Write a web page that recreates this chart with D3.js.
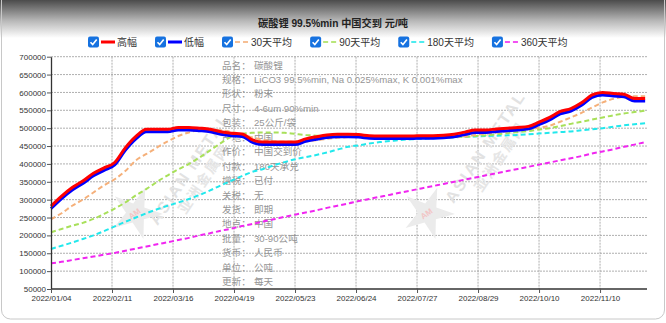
<!DOCTYPE html>
<html>
<head>
<meta charset="utf-8">
<script src="https://cdn.jsdelivr.net/npm/d3@7/dist/d3.min.js"></script>
<style>
  html, body { margin: 0; padding: 0; background: #fff; }
  svg { display: block; }
</style>
</head>
<body>
<svg id="chart" width="666" height="323"></svg>
<script>
// ---- data: lithium carbonate 99.5%min, delivered China, RMB/t ----
const chartTitle = "碳酸锂 99.5%min 中国交到 元/吨";
const totalSessions = 224.7;
const tickSessions = [0, 23, 46, 69, 92, 115, 138, 161, 184, 207];
const tickDates = ["2022/01/04", "2022/02/11", "2022/03/16", "2022/04/19", "2022/05/23",
  "2022/06/24", "2022/07/27", "2022/08/29", "2022/10/10", "2022/11/10"];
const yTicks = [50000, 100000, 150000, 200000, 250000, 300000, 350000, 400000,
  450000, 500000, 550000, 600000, 650000, 700000];

// trading-session number of each sampled quote
const sessions = [0, 4, 8, 12, 16, 20, 24, 28, 32, 36, 40, 44, 48, 52, 56, 60, 64, 68, 72, 76,
  80, 84, 88, 92, 96, 100, 104, 108, 112, 116, 120, 124, 128, 132, 136, 140, 144, 148, 152, 156,
  160, 164, 168, 172, 176, 180, 184, 188, 192, 196, 200, 204, 208, 212, 216, 220, 224];

const lowPrice = [275000, 303000, 327000, 345000, 367000, 382000, 397000, 438000, 470000, 490000,
  490000, 490000, 495000, 495000, 493000, 490000, 483000, 479000, 477000, 460000,
  454000, 454000, 454000, 454000, 463000, 469000, 474000, 476000, 476000, 475000,
  472000, 471000, 471000, 471000, 471000, 472000, 472000, 473000, 476000, 482000,
  488000, 488000, 491000, 493000, 495000, 498000, 510000, 523000, 540000, 548000,
  564000, 586000, 593000, 590000, 588000, 576000, 576000];

const highPrice = [282000, 310000, 334000, 352000, 374000, 389000, 404000, 445000, 477000, 497000,
  497000, 497000, 502000, 502000, 500000, 497000, 490000, 486000, 484000, 467000,
  461000, 461000, 461000, 461000, 470000, 476000, 481000, 483000, 483000, 482000,
  479000, 478000, 478000, 478000, 478000, 479000, 479000, 480000, 483000, 489000,
  495000, 495000, 498000, 500000, 502000, 505000, 517000, 530000, 547000, 555000,
  571000, 593000, 600000, 597000, 595000, 583000, 583000];

const avg30 = [245000, 262000, 283000, 300000, 320000, 340000, 357000, 380000, 410000, 428000,
  446000, 463000, 478000, 488000, 495000, 496000, 494000, 490000, 482000, 474000,
  467000, 463000, 462000, 462000, 463000, 466000, 470000, 473000, 475000, 476000,
  476000, 475000, 474000, 473000, 473000, 473000, 474000, 474000, 475000, 477000,
  481000, 485000, 488000, 491000, 494000, 497000, 501000, 507000, 518000, 530000,
  543000, 558000, 572000, 582000, 588000, 589000, 589000];

const avg90 = [209000, 218000, 227000, 235000, 246000, 260000, 275000, 292000, 312000, 330000,
  350000, 368000, 385000, 400000, 418000, 438000, 458000, 476000, 484000, 487000,
  488000, 488000, 487000, 484000, 481000, 479000, 478000, 477000, 476000, 476000,
  476000, 475000, 475000, 474000, 474000, 474000, 474000, 475000, 475000, 476000,
  478000, 480000, 483000, 486000, 489000, 492000, 496000, 500000, 506000, 512000,
  518000, 524000, 530000, 536000, 541000, 545000, 549000];

const avg180 = [162000, 171000, 180000, 190000, 200000, 212000, 225000, 238000, 250000, 262000,
  273000, 283000, 292000, 302000, 313000, 326000, 340000, 353000, 366000, 378000,
  386000, 396000, 405000, 413000, 419000, 425000, 432000, 440000, 448000, 452000,
  457000, 461000, 464000, 467000, 469000, 470000, 472000, 473000, 474000, 476000,
  477000, 478000, 479000, 480000, 481000, 483000, 485000, 487000, 489000, 491000,
  494000, 497000, 500000, 504000, 508000, 511000, 514000];

const avg360 = [122000, 126000, 131000, 136000, 141000, 146000, 151000, 157000, 163000, 169000,
  175000, 181000, 187000, 193000, 200000, 206000, 213000, 219000, 226000, 232000,
  239000, 245000, 252000, 258000, 264000, 270000, 277000, 283000, 289000, 296000,
  302000, 308000, 314000, 320000, 326000, 332000, 338000, 344000, 350000, 356000,
  362000, 368000, 374000, 380000, 386000, 392000, 398000, 404000, 410000, 416000,
  422000, 429000, 435000, 441000, 448000, 454000, 461000];

const seriesNames = ["高幅", "低幅", "30天平均", "90天平均", "180天平均", "360天平均"];

const specLabels = ["品名：", "规格：", "形状：", "尺寸：", "包装：", "产地：", "作价：", "付款：",
  "增税：", "关税：", "发货：", "地点：", "批量：", "货币：", "单位：", "更新："];
const specValues = ["碳酸锂", "LiCO3 99.5%min, Na 0.025%max, K 0.001%max", "粉末", "4-6um 90%min",
  "25公斤/袋", "中国", "中国交到价", "180天承兑", "已付", "无", "即期", "中国", "30-90公吨",
  "人民币", "公吨", "每天"];

// ---- drawing ----
const W = 666, H = 323;
const plot = { left: 51, right: 647, top: 56.7, bottom: 289 };
const FONT = "'Liberation Sans', Arial, 'Noto Sans CJK SC', sans-serif";
const CJK = "'Noto Sans CJK SC', 'Liberation Sans', sans-serif";

const svg = d3.select("#chart");
const defs = svg.append("defs");

// page card with a dark header fade
const grad = defs.append("linearGradient").attr("id", "headFade")
  .attr("x1", 0).attr("y1", 0).attr("x2", 0).attr("y2", 1);
grad.append("stop").attr("offset", "0%").attr("stop-color", "#4b4b4b");
grad.append("stop").attr("offset", "55%").attr("stop-color", "#b8b8b8");
grad.append("stop").attr("offset", "100%").attr("stop-color", "#ffffff");

svg.append("rect").attr("width", W).attr("height", H).attr("fill", "#ffffff");
svg.append("rect").attr("x", 0).attr("y", 0).attr("width", W).attr("height", 38)
  .attr("fill", "url(#headFade)");
svg.append("rect").attr("x", 1.5).attr("y", -12).attr("width", W - 3).attr("height", 331)
  .attr("rx", 9).attr("fill", "none").attr("stroke", "#c8c8c8").attr("stroke-width", 1);

const x = d3.scaleLinear().domain([0, totalSessions]).range([plot.left, plot.right]);
const y = d3.scaleLinear().domain([50000, 700000]).range([plot.bottom, plot.top]);

// grid
const grid = svg.append("g").attr("stroke", "#9a9a9a").attr("stroke-width", 0.8)
  .attr("stroke-dasharray", "2,1");
grid.selectAll("line.h").data(yTicks.slice(1)).join("line")
  .attr("x1", plot.left).attr("x2", plot.right)
  .attr("y1", d => y(d)).attr("y2", d => y(d));
grid.selectAll("line.v").data(tickSessions.slice(1)).join("line")
  .attr("x1", d => x(d)).attr("x2", d => x(d))
  .attr("y1", plot.top).attr("y2", plot.bottom);

// watermarks
function watermark(cx, cy, sx, sy) {
  const g = svg.append("g").attr("pointer-events", "none");
  const t = g.append("g").attr("transform", `translate(${cx},${cy}) rotate(-56)`);
  t.append("text").attr("text-anchor", "middle").attr("font-family", FONT)
    .attr("font-weight", "bold").attr("font-size", 16).attr("letter-spacing", 2)
    .attr("fill", "#e2e2e2").text("ASIAN METAL");
  t.append("text").attr("y", 17).attr("text-anchor", "middle").attr("font-family", CJK)
    .attr("font-weight", "bold").attr("font-size", 14).attr("letter-spacing", 2)
    .attr("fill", "#e6e6e6").text("亚洲金属网");
  const star = d3.range(10).map(i => {
    const r = i % 2 === 0 ? 27 : 10;
    const a = -Math.PI / 2 + i * Math.PI / 5 + 0.35;
    return [sx + r * Math.cos(a), sy + r * Math.sin(a)];
  });
  g.append("polygon").attr("points", star.map(p => p.join(",")).join(" "))
    .attr("fill", "#ebebeb");
  g.append("text").attr("transform", `translate(${sx},${sy + 3}) rotate(-35)`)
    .attr("text-anchor", "middle").attr("font-family", FONT).attr("font-size", 8)
    .attr("font-weight", "bold").attr("fill", "#f2c4c4").text("AM");
}
watermark(194, 172, 136, 213);
watermark(490, 150, 428, 213);

// specification block
const spec = svg.append("g").attr("font-family", FONT).attr("font-size", 9.6).attr("fill", "#959595");
specLabels.forEach((lab, i) => {
  const yy = 65 + i * 14.45 + 3.5;
  spec.append("text").attr("x", 222).attr("y", yy).text(lab);
  spec.append("text").attr("x", 254).attr("y", yy).text(specValues[i]);
});

// series lines
const curve = d3.curveMonotoneX;
function drawLine(values, color, width, dash) {
  const line = d3.line().x((d, i) => x(sessions[i])).y(d => y(d)).curve(curve);
  svg.append("path").datum(values).attr("d", line).attr("fill", "none")
    .attr("stroke", color).attr("stroke-width", width)
    .attr("stroke-dasharray", dash || null).attr("stroke-linejoin", "round");
}
const colors = ["#ff0000", "#0000ff", "#f5b07a", "#a8e05a", "#22e8ec", "#f026f0"];
drawLine(avg360, colors[5], 2, "5,3");
drawLine(avg180, colors[4], 2, "5,3");
drawLine(avg90, colors[3], 2, "5,3");
drawLine(avg30, colors[2], 2, "5,3");
drawLine(lowPrice, colors[1], 3);
drawLine(highPrice, colors[0], 3);

// axes
const yAxis = svg.append("g").attr("transform", `translate(${plot.left},0)`)
  .call(d3.axisLeft(y).tickValues(yTicks).tickSize(4).tickSizeOuter(0).tickFormat(d3.format("d")));
const xAxis = svg.append("g").attr("transform", `translate(0,${plot.bottom})`)
  .call(d3.axisBottom(x).tickValues(tickSessions).tickSize(4).tickSizeOuter(0)
    .tickFormat((d, i) => tickDates[i]));
[yAxis, xAxis].forEach(a => {
  a.select(".domain").attr("stroke", "#333").attr("stroke-width", 1.3);
  a.selectAll(".tick line").attr("stroke", "#555");
  a.selectAll("text").attr("font-family", FONT).attr("font-size", 8).attr("fill", "#333");
});
yAxis.selectAll("text").attr("x", -5);
xAxis.selectAll("text").attr("y", 6);
xAxis.select(".domain").attr("d", `M${plot.left},0H${plot.right}`);

// title, sized to span about 150px
const title = svg.append("text").attr("x", 333).attr("y", 26.5).attr("text-anchor", "middle")
  .attr("font-family", FONT).attr("font-weight", "bold").attr("font-size", 10.5)
  .attr("fill", "#222").text(chartTitle);
const tw = title.node().getComputedTextLength();
title.attr("font-size", Math.min(11.5, 10.5 * 150 / tw));

// legend
const legend = svg.append("g").attr("font-family", FONT).attr("font-size", 10).attr("fill", "#333");
let lx = 88;
const ly = 42;
seriesNames.forEach((name, i) => {
  const g = legend.append("g");
  g.append("rect").attr("x", lx).attr("y", ly - 5.5).attr("width", 11).attr("height", 11)
    .attr("rx", 2).attr("fill", "#1672e0");
  g.append("path").attr("d", `M${lx + 2.5},${ly + 0.2} L${lx + 4.7},${ly + 2.6} L${lx + 8.7},${ly - 2.6}`)
    .attr("fill", "none").attr("stroke", "#fff").attr("stroke-width", 1.6);
  const solid = i < 2;
  g.append("line").attr("x1", lx + 13).attr("x2", lx + 27).attr("y1", ly).attr("y2", ly)
    .attr("stroke", colors[i]).attr("stroke-width", solid ? 3 : 2)
    .attr("stroke-dasharray", solid ? null : "5,3").attr("opacity", solid ? 1 : 0.8);
  const t = g.append("text").attr("x", lx + 29).attr("y", ly + 3.5).text(name);
  lx += 29 + t.node().getComputedTextLength() + 18;
});
</script>
</body>
</html>
